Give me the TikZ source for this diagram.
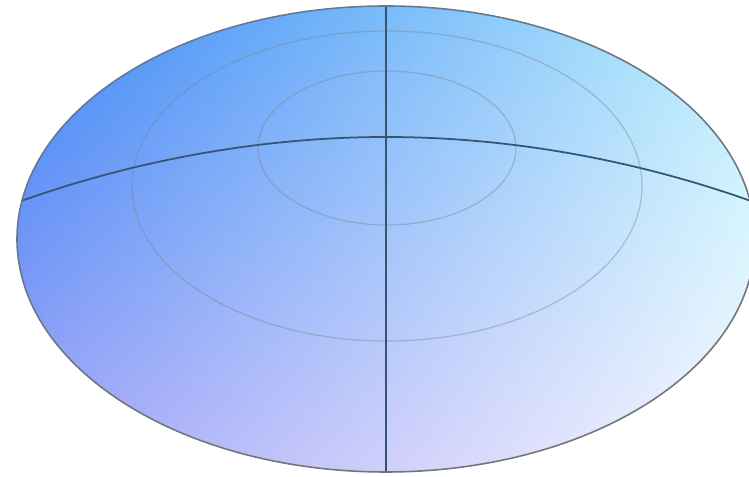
\documentclass[tikz,border=0pt]{standalone}
\usetikzlibrary{shadings}
\definecolor{domeUL}{RGB}{58,134,246}
\definecolor{domeUR}{RGB}{185,240,253}
\definecolor{domeLL}{RGB}{165,165,247}
\definecolor{domeLR}{RGB}{252,250,255}
\definecolor{rimgray}{RGB}{110,118,128}
\definecolor{axisline}{RGB}{55,85,115}
\begin{document}
\begin{tikzpicture}[x=0.02cm, y=0.02cm]
    \useasboundingbox (0,0) rectangle (749,476);
    \clip (0,0) rectangle (749,476);

    % Shaded dome
    \begin{scope}
        \clip (386,237) ellipse (369 and 233);
        \shade[upper left=domeUL, upper right=domeUR, lower left=domeLL, lower right=domeLR]
            (17,4) rectangle (755,470);

        % Contour lines
        \draw[gray, opacity=0.4, line width=0.7pt] (387,290) ellipse (255 and 155);
        \draw[gray, opacity=0.4, line width=0.7pt] (387,328) ellipse (129 and 77);

        % Axis lines
        \draw[axisline, line width=1pt] (386,0) -- (386,476);
        \draw[axisline, line width=1pt] (10,271) parabola bend (386,339) (762,271);
    \end{scope}

    % Rim
    \draw[rimgray, line width=0.9pt] (386,237) ellipse (369 and 233);
\end{tikzpicture}
\end{document}
